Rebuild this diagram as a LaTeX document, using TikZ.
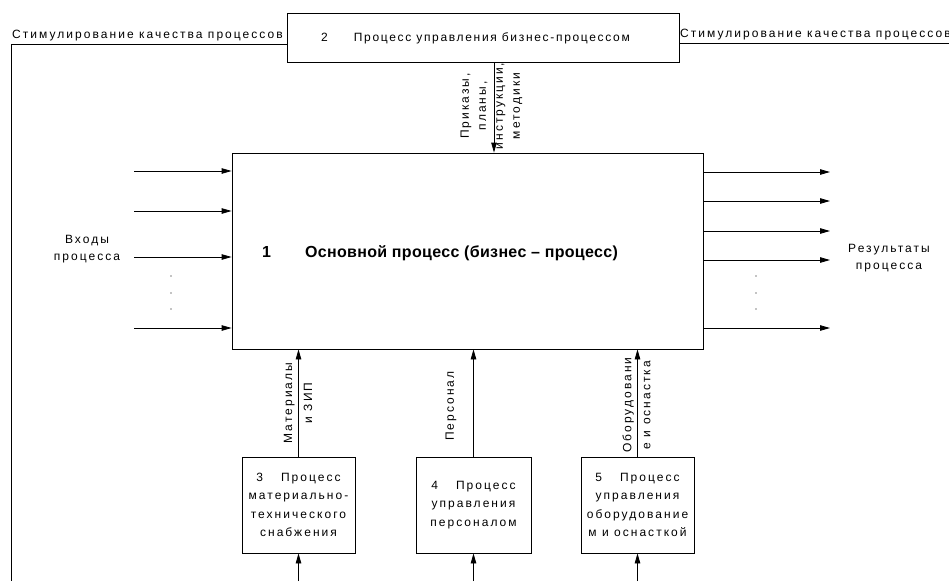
\documentclass[tikz,border=0pt]{standalone}
\usepackage{fontspec}
\setmainfont{Liberation Sans}[LetterSpace=17]
\usetikzlibrary{arrows.meta,calc,positioning}

\begin{document}
\begin{tikzpicture}[x=1pt,y=-1pt,>={Triangle[length=10pt,width=5.5pt]},
    procbox/.style={draw,line width=.8pt,inner sep=0pt,align=center},
    txt/.style={inner sep=0pt,font=\fontsize{12}{14}\selectfont},
    boxtxt/.style={txt,align=center,font=\fontsize{12}{18.5}\selectfont},
    vlab/.style={txt,rotate=90,align=center},
    link/.style={->,line width=.8pt},
    fb/.style={line width=.8pt}]
  \useasboundingbox (0,0) rectangle (949,581);
  % boxes
  \node[procbox,minimum width=471pt,minimum height=196pt] (main) at (467.5,251) {};
  \node[procbox,minimum width=392pt,minimum height=49pt] (ctrl) at (483,37.5) {};
  \node[procbox,minimum width=113pt,minimum height=96pt,boxtxt] (supply) at (298.5,505)
    {3\hspace{18pt}Процесс\\материально-\\технического\\снабжения};
  \node[procbox,minimum width=115pt,minimum height=96pt,boxtxt] (staff) at (473.5,505)
    {4\hspace{18pt}Процесс\\управления\\персоналом};
  \node[procbox,minimum width=113pt,minimum height=96pt,boxtxt] (equip) at (637.5,505)
    {5\hspace{18pt}Процесс\\управления\\оборудование\\м и оснасткой};
  % box texts
  \node[txt,anchor=west] (maintxt) at (262,253)
    {\fontsize{16}{18}\selectfont\bfseries\addfontfeature{LetterSpace=2}1\hspace{34pt}Основной процесс (бизнес – процесс)};
  \node[txt,anchor=west] (ctrltxt) at (321,38)
    {\addfontfeature{LetterSpace=14}2\hspace{26pt}Процесс управления бизнес-процессом};
  % inputs and outputs
  \foreach \y [count=\i] in {171,211,257,328}{
    \coordinate (in\i) at (134,\y);
    \draw[link] (in\i) -- (in\i -| main.west);
  }
  \foreach \y [count=\i] in {172,201,231,260,328}{
    \coordinate (out\i) at (830,\y);
    \draw[link] (out\i -| main.east) -- (out\i);
  }
  \foreach \y in {276,293,309}{
    \fill (171,\y) circle (.7pt);
    \fill (756,\y) circle (.7pt);
  }
  \node[txt,align=center,font=\fontsize{12}{17}\selectfont] (inlab) at (87,249) {Входы\\процесса};
  \node[txt,align=center,font=\fontsize{12}{17}\selectfont] (outlab) at (889,258) {Результаты\\процесса};
  % control
  \coordinate (order) at ($(ctrl.south)+(11,0)$);
  \draw[link] (order) -- (order |- main.north);
  \node[vlab,font=\fontsize{12}{17}\selectfont] (orderlab) at (491.5,106)
    {Приказы,\\планы,\\инструкции,\\методики};
  % feedback
  \coordinate (fbleft) at (11,581);
  \coordinate (fbright) at (949,43);
  \draw[fb] ([yshift=-6.5pt]ctrl.west) -| (fbleft);
  \draw[fb] ([yshift=-5.5pt]ctrl.east) -- (fbright);
  \node[txt,anchor=south west] (fbltxt) at (12,41) {Стимулирование качества процессов};
  \node[txt,anchor=south west] (fbrtxt) at (680,40) {Стимулирование качества процессов};
  % resources
  \foreach \b/\n in {supply/res3,staff/res4,equip/res5}{
    \coordinate (\n) at (\b.south |- fbleft);
    \draw[link] (\n) -- (\b.south);
    \draw[link] (\b.north) -- (\b.north |- main.south);
  }
  \node[vlab,font=\fontsize{12}{20}\selectfont] (matlab) at (298,403) {Материалы\\и ЗИП};
  \node[vlab] (stafflab) at (451,406) {Персонал};
  \node[vlab,font=\fontsize{12}{19}\selectfont] (equiplab) at (636.5,405) {Оборудовани\\е и оснастка};
\end{tikzpicture}
\end{document}
